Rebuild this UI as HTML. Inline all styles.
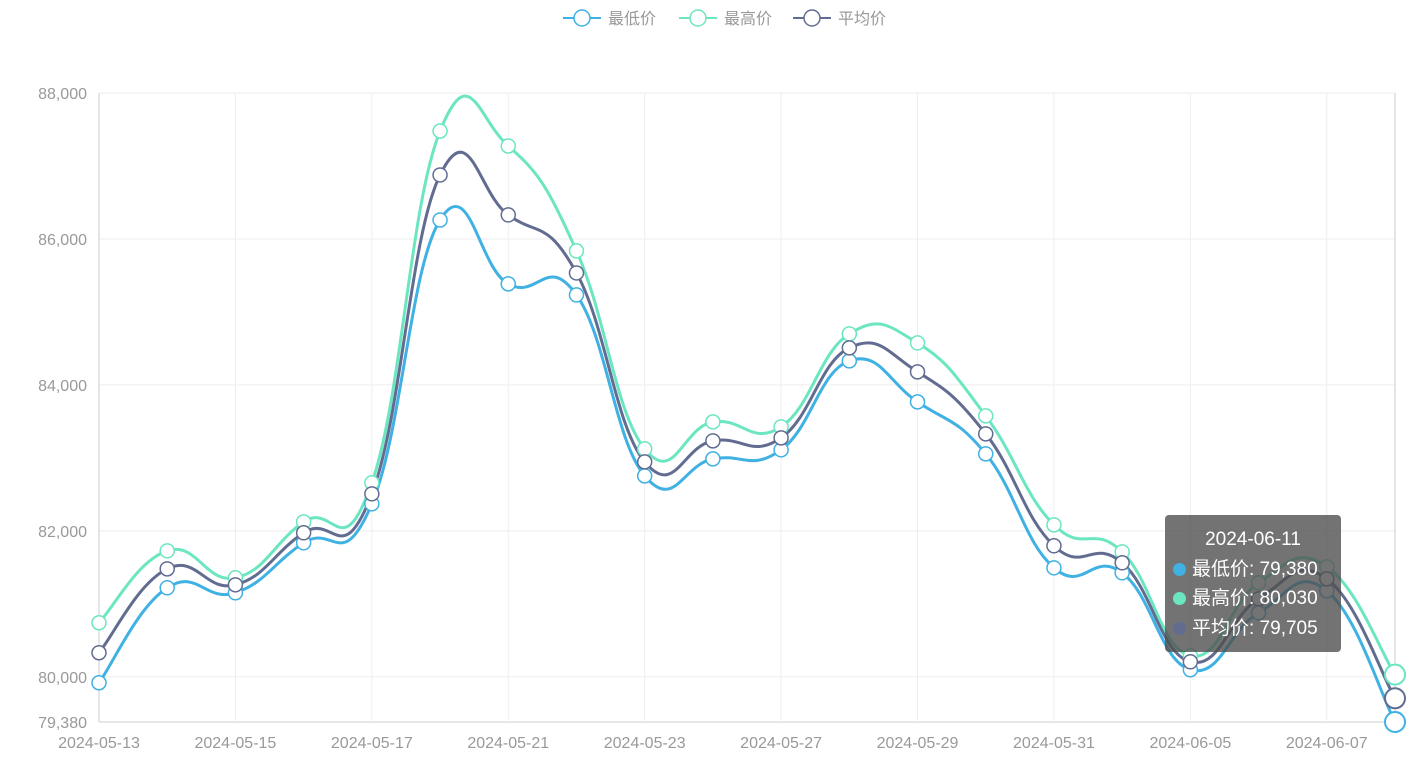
<!DOCTYPE html>
<html><head><meta charset="utf-8"><style>
body{margin:0;background:#fff;font-family:"Liberation Sans","Noto Sans CJK SC",sans-serif}
#wrap{position:relative;width:1422px;height:765px}
#tip{position:absolute;left:1165px;top:515px;width:176px;height:137px;background:rgba(80,80,80,0.8);border-radius:4px;color:#fff;font-size:19px;box-sizing:border-box;padding:10px 8px;line-height:29.5px}
#tip .d{display:inline-block;width:13px;height:13px;border-radius:50%;margin-right:6px;vertical-align:-1px}
</style></head><body>
<div id="wrap">
<svg id="chart" width="1422" height="765"></svg>
<div id="tip">
<div style="text-align:center">2024-06-11</div>
<div><span class="d" style="background:#3fb1e3"></span>最低价: 79,380</div>
<div><span class="d" style="background:#6be6c1"></span>最高价: 80,030</div>
<div><span class="d" style="background:#626c91"></span>平均价: 79,705</div>
</div>
</div>
<script>
const categories=["2024-05-13","2024-05-14","2024-05-15","2024-05-16","2024-05-17","2024-05-20","2024-05-21","2024-05-22","2024-05-23","2024-05-24","2024-05-27","2024-05-28","2024-05-29","2024-05-30","2024-05-31","2024-06-04","2024-06-05","2024-06-06","2024-06-07","2024-06-11"];
const lowValues=[79918,81219,81151,81836,82370,86260,85384,85233,82753,82986,83110,84329,83767,83055,81493,81425,80096,80877,81178,79380];
const highValues=[80740,81726,81356,82123,82658,87479,87274,85836,83123,83493,83425,84699,84575,83575,82082,81712,80288,81288,81507,80030];
const avgValues=[80329,81479,81260,81973,82507,86877,86329,85534,82945,83233,83274,84507,84178,83329,81795,81562,80205,81068,81342,79705];
const yTicks=[79380,80000,82000,84000,86000,88000];
const seriesNames=["最低价","最高价","平均价"];
const NS="http://www.w3.org/2000/svg";
const svg=document.getElementById('chart');
const L=99,R=1395,T=93,B=722,yMin=79380,yMax=88000;
const xs=i=>L+(R-L)*i/(categories.length-1);
const ys=v=>B-(v-yMin)/(yMax-yMin)*(B-T);
function mk(t,a,p){const e=document.createElementNS(NS,t);for(const k in a)e.setAttribute(k,a[k]);(p||svg).appendChild(e);return e;}
// grid
yTicks.forEach(v=>{
 const g=mk('line',{x1:L,x2:R,y1:ys(v),y2:ys(v),stroke:v===yMin?'#ccc':'#eee'});
 
 
 const t=mk('text',{x:L-12,y:ys(v)+6,'text-anchor':'end','font-size':16,fill:'#999'});
 t.textContent=v.toLocaleString('en-US');
 
 
});
categories.forEach((c,i)=>{
 if(i%2===0){
  const g=mk('line',{x1:xs(i),x2:xs(i),y1:T,y2:B,stroke:'#eee'});
  
  
  const t=mk('text',{x:xs(i),y:B+26,'text-anchor':'middle','font-size':16,fill:'#999'});
  t.textContent=c;
  
  
 }
});
const la=mk('line',{x1:L,x2:L,y1:T,y2:B,stroke:'#ccc'});


const ra=mk('line',{x1:R,x2:R,y1:T,y2:B,stroke:'#ccc'});


function path(vals){
 const p=vals.map((v,i)=>[xs(i),ys(v)]);let d=`M${p[0][0]},${p[0][1]}`;const s=0.22;
 for(let i=0;i<p.length-1;i++){
  const p0=p[Math.max(0,i-1)],p1=p[i],p2=p[i+1],p3=p[Math.min(p.length-1,i+2)];
  const c1=[p1[0]+(p2[0]-p0[0])*s,p1[1]+(p2[1]-p0[1])*s];
  const c2=[p2[0]-(p3[0]-p1[0])*s,p2[1]-(p3[1]-p1[1])*s];
  d+=` C${c1[0]},${c1[1]} ${c2[0]},${c2[1]} ${p2[0]},${p2[1]}`;
 }
 return d;
}
const series=[[lowValues,'#3fb1e3','low'],[highValues,'#6be6c1','high'],[avgValues,'#626c91','avg']];
series.forEach(([vals,col,nm])=>{
 const pl=mk('path',{d:path(vals),fill:'none',stroke:col,'stroke-width':3});
 
 
});
series.forEach(([vals,col,nm])=>{
 vals.forEach((v,i)=>{
  const last=i===vals.length-1;
  const c=mk('circle',{cx:xs(i),cy:ys(v),r:last?10:7,fill:'#fff',stroke:col,'stroke-width':last?2:1.5});
  
  
 });
});
// legend
const legX=[563,679,793],legCol=['#3fb1e3','#6be6c1','#626c91'];
seriesNames.forEach((n,i)=>{
 const g=mk('g',{});
 
 
 mk('line',{x1:legX[i],x2:legX[i]+38,y1:18,y2:18,stroke:legCol[i],'stroke-width':2},g);
 mk('circle',{cx:legX[i]+19,cy:18,r:8,fill:'#fff',stroke:legCol[i],'stroke-width':1.5},g);
 const t=mk('text',{x:legX[i]+45,y:24,'font-size':16,fill:'#999'},g);
 t.textContent=n;
});
</script>
</body></html>
